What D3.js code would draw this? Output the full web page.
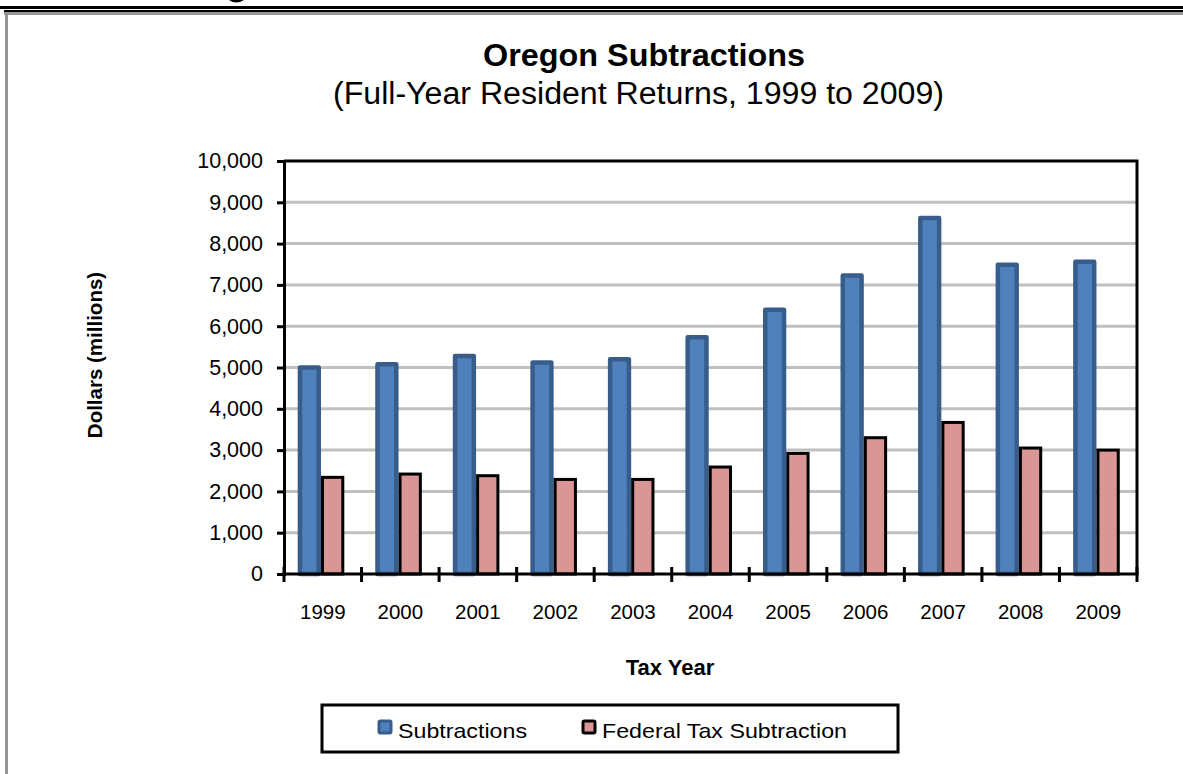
<!DOCTYPE html>
<html>
<head>
<meta charset="utf-8">
<script src="https://cdn.jsdelivr.net/npm/d3@7"></script>
<style>
  body { margin: 0; background: #fff; }
  text { font-family: Arial, "Liberation Sans", sans-serif; }
</style>
</head>
<body>
<div id="chart"></div>
<script>
var width = 1183;
var height = 774;

// data
const years = ["1999", "2000", "2001", "2002", "2003", "2004", "2005", "2006", "2007", "2008", "2009"];
const subtractions = [5000, 5080, 5280, 5120, 5200, 5730, 6400, 7230, 8620, 7490, 7560];
const federalTax = [2340, 2420, 2380, 2290, 2290, 2590, 2920, 3300, 3670, 3050, 3000];
const seriesNames = ["Subtractions", "Federal Tax Subtraction"];
const yTicks = [0, 1000, 2000, 3000, 4000, 5000, 6000, 7000, 8000, 9000, 10000];

var plot = { left: 284, right: 1137, top: 161, bottom: 574 };

let svg = d3.select("#chart")
  .append("svg")
  .attr("width", width)
  .attr("height", height);

// page frame lines
svg.append("rect").attr("x", 0).attr("y", 6).attr("width", width).attr("height", 3).attr("fill", "#000");
svg.append("rect").attr("x", 4).attr("y", 10).attr("width", width - 4).attr("height", 2).attr("fill", "#000");
svg.append("rect").attr("x", 4).attr("y", 12).attr("width", width - 4).attr("height", 3).attr("fill", "#959595");
svg.append("rect").attr("x", 5).attr("y", 12).attr("width", 3).attr("height", height - 12).attr("fill", "#959595");
// bit of a heading glyph cut off above the frame
svg.append("path")
  .attr("d", "M229,0 Q236,5 244,0 Z")
  .attr("fill", "#000");

var x = d3.scaleBand()
  .domain(years)
  .range([plot.left, plot.right]);

var xs = d3.scaleBand()
  .domain(seriesNames)
  .range([13.7, 60.3]);

var y = d3.scaleLinear()
  .domain([0, 10000])
  .range([plot.bottom, plot.top]);

// gridlines
svg.append("g")
  .selectAll("line")
  .data(yTicks.filter(d => d > 0 && d < 10000))
  .enter().append("line")
  .attr("x1", plot.left).attr("x2", plot.right)
  .attr("y1", d => y(d)).attr("y2", d => y(d))
  .attr("stroke", "#c0c0c0")
  .attr("stroke-width", 3);

// plot border (top & right)
svg.append("path")
  .attr("d", `M${plot.left},${plot.top}H${plot.right}V${plot.bottom}`)
  .attr("fill", "none")
  .attr("stroke", "#000")
  .attr("stroke-width", 3);

var groups = svg.append("g")
  .selectAll("g")
  .data(years)
  .enter().append("g")
  .attr("transform", d => `translate(${x(d)},0)`);

groups.append("rect")
  .attr("x", xs("Subtractions") + 2.25)
  .attr("width", xs.bandwidth() - 4.5)
  .attr("y", (d, i) => y(subtractions[i]))
  .attr("height", (d, i) => y(0) - y(subtractions[i]))
  .attr("fill", "#4f81bd")
  .attr("stroke", "#385d8a")
  .attr("stroke-width", 4.5)
  .attr("stroke-linejoin", "round");

groups.append("rect")
  .attr("x", xs("Federal Tax Subtraction") + 1.5)
  .attr("width", xs.bandwidth() - 3)
  .attr("y", (d, i) => y(federalTax[i]))
  .attr("height", (d, i) => y(0) - y(federalTax[i]))
  .attr("fill", "#d99694")
  .attr("stroke", "#000")
  .attr("stroke-width", 3);

// y axis
var yAxis = svg.append("g")
  .attr("transform", `translate(${plot.left},0)`)
  .call(d3.axisLeft(y).tickValues(yTicks).tickFormat(d3.format(",")).tickSize(7).tickPadding(14));
yAxis.select(".domain").attr("stroke", "#000").attr("stroke-width", 3);
yAxis.selectAll(".tick line").attr("stroke", "#000").attr("stroke-width", 3);
yAxis.selectAll(".tick text").attr("font-size", 21.5).attr("fill", "#000")
  .attr("font-family", "Arial, 'Liberation Sans', sans-serif");

// x axis
var xAxis = svg.append("g")
  .attr("transform", `translate(0,${plot.bottom})`)
  .call(d3.axisBottom(x).tickSize(0).tickPadding(30));
xAxis.select(".domain").remove();
xAxis.selectAll(".tick text").attr("font-size", 20.5).attr("fill", "#000")
  .attr("font-family", "Arial, 'Liberation Sans', sans-serif");

svg.append("line")
  .attr("x1", plot.left - 1.5).attr("x2", plot.right + 1.5)
  .attr("y1", plot.bottom).attr("y2", plot.bottom)
  .attr("stroke", "#000").attr("stroke-width", 3);

// category boundary ticks
svg.append("g")
  .selectAll("line")
  .data(years.concat(["end"]))
  .enter().append("line")
  .attr("x1", (d, i) => i < years.length ? x(d) : plot.right)
  .attr("x2", (d, i) => i < years.length ? x(d) : plot.right)
  .attr("y1", plot.bottom - 7).attr("y2", plot.bottom + 8)
  .attr("stroke", "#000").attr("stroke-width", 3);

// titles
svg.append("text").attr("x", 644).attr("y", 66)
  .attr("text-anchor", "middle").attr("font-size", 31).attr("font-weight", "bold")
  .attr("textLength", 322).attr("lengthAdjust", "spacingAndGlyphs")
  .text("Oregon Subtractions");
svg.append("text").attr("x", 638.5).attr("y", 104)
  .attr("text-anchor", "middle").attr("font-size", 31)
  .attr("textLength", 611).attr("lengthAdjust", "spacingAndGlyphs")
  .text("(Full-Year Resident Returns, 1999 to 2009)");

svg.append("text").attr("x", 670).attr("y", 675)
  .attr("text-anchor", "middle").attr("font-size", 22).attr("font-weight", "bold")
  .text("Tax Year");

svg.append("text")
  .attr("transform", "translate(102,355) rotate(-90)")
  .attr("text-anchor", "middle").attr("font-size", 20.5).attr("font-weight", "bold")
  .text("Dollars (millions)");

// legend
var legend = svg.append("g");
legend.append("rect")
  .attr("x", 322).attr("y", 705).attr("width", 576).attr("height", 47)
  .attr("fill", "#fff").attr("stroke", "#000").attr("stroke-width", 3);

var legendItems = [
  { name: seriesNames[0], x: 379, fill: "#4f81bd", stroke: "#385d8a", w: 129 },
  { name: seriesNames[1], x: 583, fill: "#d99694", stroke: "#000", w: 245 }
];
legend.selectAll(".key")
  .data(legendItems)
  .enter().append("rect")
  .attr("class", "key")
  .attr("x", d => d.x).attr("y", 721)
  .attr("width", 12).attr("height", 12)
  .attr("rx", 1.5)
  .attr("fill", d => d.fill).attr("stroke", d => d.stroke).attr("stroke-width", 3);
legend.selectAll(".label")
  .data(legendItems)
  .enter().append("text")
  .attr("class", "label")
  .attr("x", d => d.x + 19).attr("y", 738)
  .attr("font-size", 21)
  .attr("textLength", d => d.w).attr("lengthAdjust", "spacingAndGlyphs")
  .text(d => d.name);
</script>
</body>
</html>
